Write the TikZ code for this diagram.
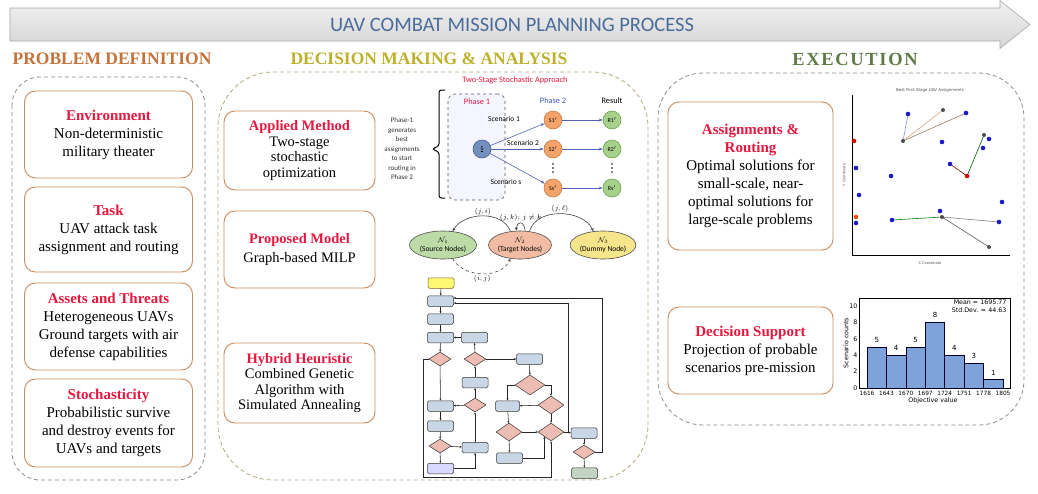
\documentclass[tikz,border=0pt]{standalone}
\usepackage{fontspec}
\setmainfont{Liberation Serif}
\newfontfamily\cfont{Carlito}
\newfontfamily\dfont{DejaVu Sans}
\usepackage{amsmath}
\usepackage{amssymb}
\usetikzlibrary{shapes.geometric}
\usetikzlibrary{arrows.meta}
\usetikzlibrary{calc}
\usetikzlibrary{positioning}

\definecolor{headred}{HTML}{E8173E}
\definecolor{boxline}{HTML}{C98A5C}
\definecolor{pdcol}{HTML}{C4733A}
\definecolor{dmcol}{HTML}{BDB12B}
\definecolor{excol}{HTML}{5F7A45}
\definecolor{bantext}{HTML}{4B6C9B}
\definecolor{contline}{HTML}{8C8C8C}
\definecolor{dmline}{HTML}{B3A77C}
\definecolor{p2blue}{HTML}{3F55C8}
\definecolor{sbfill}{HTML}{7390BE}
\definecolor{sbline}{HTML}{41608F}
\definecolor{sofill}{HTML}{F4A46A}
\definecolor{soline}{HTML}{C87A40}
\definecolor{sgfill}{HTML}{A5D18A}
\definecolor{sgline}{HTML}{6E9E50}
\definecolor{nonefill}{HTML}{BCDBA6}
\definecolor{ntwofill}{HTML}{F2BCA4}
\definecolor{nthreefill}{HTML}{F7E58C}
\definecolor{fboxfill}{HTML}{C9D6E6}
\definecolor{fdiafill}{HTML}{EDBDB3}
\definecolor{ptblue}{HTML}{1A1AC8}
\definecolor{barfill}{HTML}{7FA2DA}

\newcommand{\bhead}[1]{{\bfseries\color{headred}#1}}

\begin{document}
\begin{tikzpicture}[x=1pt,y=-1pt,>=Stealth,
  pbox/.style={draw=boxline, line width=0.9pt, rounded corners=11pt, fill=white, align=center, inner sep=1pt, font=\fontsize{15}{18}\selectfont},
  mbox/.style={pbox, font=\fontsize{14.5}{15.5}\selectfont},
  hd/.style={font=\fontsize{17.5}{20}\selectfont\bfseries},
  cont/.style={draw=contline, line width=0.8pt, dash pattern=on 4pt off 3pt},
  lbl/.style={font=\cfont\fontsize{8.3}{9}\selectfont, inner sep=1pt},
  sclbl/.style={font=\cfont\fontsize{7.5}{8}\selectfont, inner sep=0.5pt},
  sc/.style={circle, minimum size=18pt, inner sep=0pt, line width=0.6pt, font=\cfont\fontsize{6}{7}\selectfont},
  sedge/.style={draw=p2blue!70!gray, line width=0.6pt, -{Stealth[length=4pt,width=3pt]}},
  ell/.style={ellipse, line width=0.6pt, draw=black!70, align=center, inner sep=0pt, font=\cfont\fontsize{7.5}{8.5}\selectfont},
  gedge/.style={draw=black!75, line width=0.6pt, -{Stealth[length=3.5pt,width=3pt]}},
  fbox/.style={draw=black!80, fill=fboxfill, rounded corners=1.5pt, line width=0.5pt, minimum width=26pt, minimum height=10.5pt, inner sep=0pt},
  fdia/.style={diamond, draw=black!80, fill=fdiafill, line width=0.5pt, minimum width=22pt, minimum height=14pt, inner sep=0pt},
  fline/.style={draw=black!85, line width=0.55pt, -{Stealth[length=2.2pt,width=2pt]}},
  tiny/.style={font=\dfont\fontsize{6.3}{7}\selectfont, inner sep=0.5pt}]

\useasboundingbox (0,0) rectangle (1038,493);

% banner
\draw[draw=gray!70, top color=gray!12, bottom color=gray!32, line width=0.6pt]
  (10,8) -- (1000,8) -- (1000,0.5) -- (1030,24.5) -- (1000,48.5) -- (1000,41) -- (10,41) -- cycle;
\node[font=\cfont\fontsize{20.5}{22}\selectfont, text=bantext] (banner) at (512,25) {UAV COMBAT MISSION PLANNING PROCESS};

\node[hd, text=pdcol] (pdhead) at (112,59) {PROBLEM DEFINITION};
\node[hd, text=dmcol] (dmhead) at (429,59) {DECISION MAKING \& ANALYSIS};
\node[hd, text=excol, font=\fontsize{18.5}{20}\selectfont\bfseries\addfontfeature{LetterSpace=9}] (exhead) at (855,59) {EXECUTION};

\draw[cont, rounded corners=28pt] (12,77) rectangle (205,480);
\draw[cont, draw=dmline, rounded corners=55pt] (218,72) rectangle (648,480);
\draw[cont, rounded corners=45pt] (658,73) rectangle (1024,425);

% problem definition
\node[pbox, minimum width=168pt, minimum height=87pt] (env) at (108.5,134.5) {\bhead{Environment}\\Non-deterministic\\military theater};
\node[pbox, minimum width=168pt, minimum height=85pt] (task) at (108.5,229.5) {\bhead{Task}\\UAV attack task\\assignment and routing};
\node[pbox, minimum width=168pt, minimum height=87pt] (assets) at (108.5,326.5) {\bhead{Assets and Threats}\\Heterogeneous UAVs\\Ground targets with air\\defense capabilities};
\node[pbox, minimum width=168pt, minimum height=88pt] (stoch) at (108.5,423) {\bhead{Stochasticity}\\Probabilistic survive\\and destroy events for\\UAVs and targets};

% decision making
\node[mbox, minimum width=151pt, minimum height=79pt] (applied) at (299.5,150.5) {\bhead{Applied Method}\\Two-stage\\stochastic\\optimization};
\node[mbox, minimum width=151pt, minimum height=77pt] (proposed) at (299.5,249.5) {\bhead{Proposed Model}\\[3pt]Graph-based MILP};
\node[mbox, minimum width=151pt, minimum height=80pt] (hybrid) at (299.5,383) {\bhead{Hybrid Heuristic}\\Combined Genetic\\Algorithm with\\Simulated Annealing};

% two-stage approach
\node[lbl, text=headred] (tsa) at (515,80) {Two-Stage Stochastic Approach};
\node[draw=black!65, dashed, rounded corners=7pt, fill=blue!4, line width=0.6pt, minimum width=57pt, minimum height=106pt] (phase1) at (476.5,147) {};
\node[lbl, text=headred] (p1lbl) at (477,102) {Phase 1};
\node[lbl, text=p2blue] (p2lbl) at (553,101) {Phase 2};
\node[lbl] (reslbl) at (612,101) {Result};
\node[lbl, align=center, font=\cfont\fontsize{7}{9.5}\selectfont, text=black!80] (p1txt) at (402,149) {Phase-1\\generates\\best\\assignments\\to start\\routing in\\Phase 2};
\draw[line width=1pt, rounded corners=2.5pt] (445,90) -- (439,90) -- (439,146) -- (432,149) -- (439,152) -- (439,198) -- (445,198);

\node[sc, fill=sbfill, draw=sbline] (s0) at (482,149) {\underline{S}};
\node[sc, fill=sofill, draw=soline] (s1) at (553,120) {S1$'$};
\node[sc, fill=sofill, draw=soline] (s2) at (553,149) {S2$'$};
\node[sc, fill=sofill, draw=soline] (ss) at (553,188) {Ss$'$};
\node[sc, fill=sgfill, draw=sgline] (r1) at (612,120) {R1$'$};
\node[sc, fill=sgfill, draw=sgline] (r2) at (612,149) {R2$'$};
\node[sc, fill=sgfill, draw=sgline] (rs) at (612,188) {Rs$'$};
\foreach \dx in {553,612}
  \foreach \dy in {164,168,172}
    \fill (\dx,\dy) circle (0.8);

\draw[sedge] (s0) -- (s1);
\draw[sedge] (s0) -- (s2);
\draw[sedge] (s0) -- (ss);
\draw[sedge] (s1) -- (r1);
\draw[sedge] (s2) -- (r2);
\draw[sedge] (ss) -- (rs);
\node[sclbl] (sc1lbl) at (504,119) {Scenario 1};
\node[sclbl] (sc2lbl) at (523,143) {Scenario 2};
\node[sclbl] (scslbl) at (506,182) {Scenario s};

% graph model
\node[ell, fill=nonefill, minimum width=67pt, minimum height=28pt] (src) at (443,245) {$\mathcal{N}_1$\\(Source Nodes)};
\node[ell, fill=ntwofill, minimum width=58pt, minimum height=28pt] (trg) at (520,245) {$\mathcal{N}_2$\\(Target Nodes)};
\node[ell, fill=nthreefill, minimum width=64pt, minimum height=28pt] (dum) at (603,245) {$\mathcal{N}_3$\\(Dummy Node)};
\draw[gedge] (trg.125) to[out=110,in=60] node[above, font=\fontsize{7}{8}\selectfont, inner sep=1pt] {$(j,i)$} (src.55);
\draw[gedge] (trg.70) to[out=95,in=85,looseness=3] node[above, font=\fontsize{7}{8}\selectfont, inner sep=1pt] {$(j,k);\,j\neq k$} (trg.105);
\draw[gedge] (trg.55) to[out=75,in=115] node[above, font=\fontsize{7}{8}\selectfont, inner sep=1pt] {$(j,\ell)$} (dum.125);
\draw[gedge, dashed] (src.-55) to[out=-60,in=-115] node[below, font=\fontsize{7}{8}\selectfont, inner sep=1pt] {$(i,j)$} (trg.-125);

% flowchart
\node[fbox, fill=yellow!55, draw=brown!70!black] (fstart) at (441,283) {};
\node[fbox] (fa) at (440.5,301) {};
\node[fbox] (fb) at (440.5,319) {};
\node[fbox] (fc) at (440.5,337.5) {};
\node[fbox] (fd) at (474.5,337.5) {};
\node[fdia] (fe) at (440,359) {};
\node[fdia] (ff) at (475,359) {};
\node[fbox] (fg) at (529.5,359) {};
\node[fbox] (fh) at (475,382.5) {};
\node[fdia, minimum width=30pt, minimum height=20pt] (fi) at (530,385) {};
\node[fdia] (fj) at (475,405) {};
\node[fbox] (fk) at (440.5,406) {};
\node[fbox, minimum width=24pt] (fl) at (507.5,406) {};
\node[fdia, minimum width=26pt, minimum height=18pt] (fm) at (551,405) {};
\node[fbox] (fn) at (440.5,426) {};
\node[fdia, minimum width=26pt, minimum height=18pt] (fo) at (509,432) {};
\node[fdia, minimum width=26pt, minimum height=18pt] (fp) at (551,432) {};
\node[fbox] (fq) at (584,433) {};
\node[fdia] (fr) at (440,446) {};
\node[fbox] (fs) at (475,447.5) {};
\node[fdia] (ft) at (584,452) {};
\node[fbox] (fu) at (509.5,458) {};
\node[fbox, fill=blue!15] (fv) at (440.5,468.5) {};
\node[fbox, fill=green!15!gray!40] (fw) at (584.5,473) {};

\coordinate (bend1) at (568,303);
\coordinate (bend2) at (602,298);
\coordinate (bend3) at (423,477);
\draw[fline] (fstart) -- (fa);
\draw[fline] (fa) -- (fb);
\draw[fline] (fb) -- (fc);
\draw[fline] (fc) -- (fe);
\draw[fline] (fe) -- (fk);
\draw[fline] (fk) -- (fn);
\draw[fline] (fn) -- (fr);
\draw[fline] (fr) -- (fv);
\draw[fline] (fr) -- (fs);
\draw[fline] (fs) -- (fj);
\draw[fline] (fj) -- (fk);
\draw[fline] (fj) -- (fh);
\draw[fline] (fh) -- (ff);
\draw[fline] (ff) -- (fd);
\draw[fline] (fd) -- (fc);
\draw[fline] (ff) -- (fg);
\draw[fline] (fg) -- (fi);
\draw[fline] (fi.west) -| (fl.north);
\draw[fline] (fi.east) -| (fm.north);
\draw[fline] (fm) -- (fl);
\draw[fline] (fl) -- (fo);
\draw[fline] (fm) -- (fp);
\draw[fline] (fo) -- (fp);
\draw[fline] (fo) -- (fu);
\draw[fline] (fu.east) -| (fp.south west);
\draw[fline] (fv.east) -| (fs.south);
\draw[fline] (fe.west) -| (bend3) -| (fp.south);
\draw[fline] (fp) -- (fq);
\draw[fline] (fq) -- (ft);
\draw[fline] (ft) -- (fw);
\draw[fline] (fp.east) -| (bend1) -- (fa.east |- bend1);
\draw[fline] (ft.east) -| (bend2) -- (fa.east |- bend2);

% scatter plot
\node[font=\dfont\fontsize{4}{5}\selectfont, text=black!70] (sptitle) at (930,90) {Best First-Stage UAV Assignments};
\draw[line width=0.7pt] (852,95) -- (852,255) -- (1010,255);
\node[font=\dfont\fontsize{3.5}{4}\selectfont, text=black!70] (spx) at (930,263) {X Coordinate};
\node[font=\dfont\fontsize{3.5}{4}\selectfont, text=black!70, rotate=90] (spy) at (844,175) {Y Coordinate};
\draw[draw=blue!45, line width=0.6pt] (903,141) -- (908,114);
\draw[draw=brown!70, line width=0.6pt] (903,141) -- (943,110);
\draw[draw=brown!50!gray, line width=0.6pt] (903,141) -- (966,113);
\draw[draw=green!40!black, line width=0.6pt] (967,176) -- (984,135);
\draw[draw=red!50!black, line width=0.6pt] (967,176) -- (950,164);
\draw[draw=green!50!black, line width=0.6pt] (942,217) -- (892,220);
\draw[draw=gray, line width=0.6pt] (942,217) -- (999,222);
\draw[draw=black!65, line width=0.6pt] (942,217) -- (989,247);
\foreach \px/\py in {908/114, 966/113, 942/142, 989/139, 983/148, 950/164, 856/168, 891/176, 859/195, 1002/202, 940/211, 892/220, 999/222, 856/223}
  \fill[ptblue] (\px,\py) circle (2.3);
\foreach \px/\py in {943/110, 903/141, 984/135, 942/217, 989/247}
  \fill[black!70] (\px,\py) circle (2);
\foreach \px/\py in {854/141, 967/176}
  \fill[red!85!black] (\px,\py) circle (2.3);
\fill[orange!60!red] (856,217) circle (2.3);

% histogram
\draw[line width=0.7pt] (859,298) rectangle (1010,388);
\foreach \c [count=\i from 0] in {5,4,5,8,4,3,1} {
  \draw[fill=barfill, draw=black!85!blue, line width=0.7pt] ({867+\i*19.43},388) rectangle ({867+(\i+1)*19.43},{388-\c*8.2});
  \node[tiny, font=\dfont\fontsize{7}{8}\selectfont] at ({867+(\i+0.5)*19.43},{388-\c*8.2-7}) {\c};
}
\foreach \v in {0,2,4,6,8,10}
  \node[tiny, anchor=east] at (858,{388-\v*8.2}) {\v};
\foreach \t [count=\i from 0] in {1616,1643,1670,1697,1724,1751,1778,1805}
  \node[tiny, font=\dfont\fontsize{5.8}{7}\selectfont] at ({867+\i*19.43},393) {\t};
\node[tiny, rotate=90] (hylbl) at (846,343) {Scenario counts};
\node[tiny] (hxlbl) at (933,401) {Objective value};
\node[tiny, anchor=east, align=right, font=\dfont\fontsize{6.3}{7.5}\selectfont] (hstats) at (1007,306) {Mean = 1695.77\\Std.Dev. = 44.63};

% execution
\node[pbox, minimum width=165pt, minimum height=148pt] (assign) at (750.5,176) {\bhead{Assignments \&}\\\bhead{Routing}\\Optimal solutions for\\small-scale, near-\\optimal solutions for\\large-scale problems};
\node[pbox, minimum width=165pt, minimum height=87pt] (decision) at (750.5,350.5) {\bhead{Decision Support}\\Projection of probable\\scenarios pre-mission};

\end{tikzpicture}
\end{document}
